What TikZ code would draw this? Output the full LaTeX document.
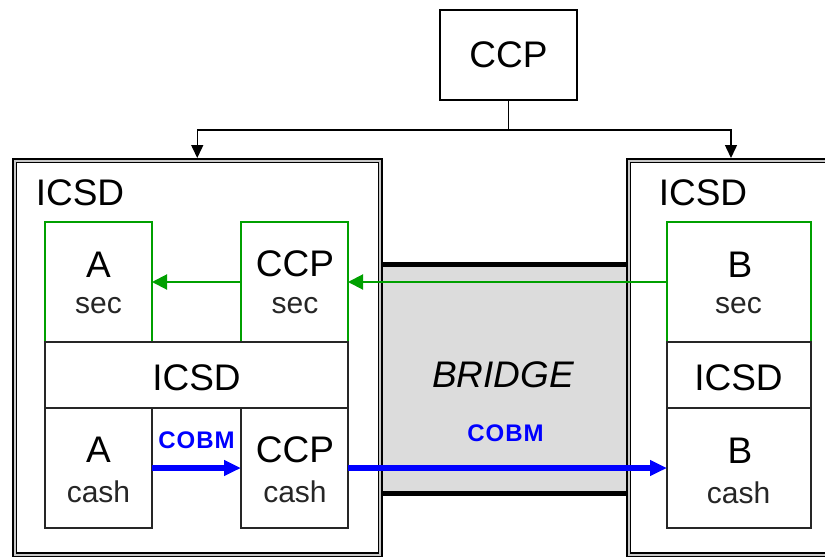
\documentclass[tikz,border=0pt]{standalone}
\usepackage{fontspec}
\setmainfont{Liberation Sans}
\newfontfamily\cobmfont[LetterSpace=4.0]{Liberation Sans}
\usetikzlibrary{arrows.meta}
\definecolor{secgreen}{RGB}{0,160,0}
\definecolor{cobmblue}{RGB}{0,0,255}
\definecolor{bridgegray}{RGB}{220,220,220}
\definecolor{framegray}{RGB}{200,200,200}

\begin{document}
\begin{tikzpicture}[x=1pt,y=-1pt,
  every node/.style={inner sep=0pt, outer sep=0pt},
  bigtext/.style={font=\fontsize{37}{37}\selectfont},
  smalltext/.style={font=\fontsize{30}{30}\selectfont, text=black!85},
  cobmtext/.style={font=\fontsize{24}{24}\cobmfont\bfseries, text=cobmblue},
  icsdframe/.style={draw=black, line width=1.5pt, double=framegray,
    double distance=2pt, minimum width=#1, minimum height=394pt},
  secbox/.style={draw=secgreen, line width=1.5pt, fill=white,
    minimum width=#1, minimum height=120pt},
  cashbox/.style={draw=black!85, line width=1.5pt, fill=white,
    minimum width=#1, minimum height=120pt},
  barbox/.style={draw=black!85, line width=1.5pt, fill=white,
    minimum width=#1, minimum height=66pt},
  treeline/.style={draw=black, line width=1.5pt},
  treearrow/.style={treeline, shorten >=2.5pt, -{Triangle[length=13pt,width=12pt]}},
  secarrow/.style={draw=secgreen, line width=2pt, -{Triangle[length=15pt,width=15pt]}},
  casharrow/.style={draw=cobmblue, line width=5.5pt, -{Triangle[length=17pt,width=15pt]}},
]
\useasboundingbox (0,0) rectangle (825,557);
\clip (0,0) rectangle (825,557);

% bridge between the two depositories
\node[fill=bridgegray, minimum width=246pt, minimum height=229pt] (bridge) at (504,378.5) {};
\draw[line width=5pt] (bridge.north west) -- (bridge.north east);
\draw[line width=5pt] (bridge.south west) -- (bridge.south east);
\node[font=\fontsize{37}{37}\selectfont\itshape] (bridgeT) at (503,375) {BRIDGE};
\node[cobmtext] (cobmB) at (505.5,433) {COBM};

% outer ICSD frames
\node[icsdframe=365.5pt] (frameL) at (197.25,357.5) {};
\node[icsdframe=205pt] (frameR) at (731,357.5) {};
\node[bigtext] (icsdL) at (80,193) {ICSD};
\node[bigtext] (icsdR) at (703,193) {ICSD};

% central counterparty and its links
\node[draw, line width=1.5pt, minimum width=137pt, minimum height=90pt, bigtext] (ccp) at (508.5,55) {CCP};
\draw[treeline] (ccp.south) -- ++(0,30) coordinate (split);
\draw[treearrow] (split) -| (frameL.north);
\draw[treearrow] (split) -| (frameR.north);

% securities accounts
\node[secbox=107pt] (asec) at (98.5,282) {};
\node[secbox=107pt] (csec) at (294.5,282) {};
\node[secbox=144pt] (bsec) at (739,282) {};

% ICSD bars
\node[barbox=303pt] (barL) at (196.5,375) {};
\node[barbox=144pt] (barR) at (739,375) {};
\node[bigtext] (barLT) at (196.5,377.5) {ICSD};
\node[bigtext] (barRT) at (738.5,377.5) {ICSD};

% cash accounts
\node[cashbox=107pt] (acash) at (98.5,468) {};
\node[cashbox=107pt] (ccash) at (294.5,468) {};
\node[cashbox=144pt] (bcash) at (739,468) {};

% account labels
\node[bigtext] (asecT) at (98.5,265) {A};
\node[smalltext] (asecS) at (98.5,306) {sec};
\node[bigtext] (csecT) at (295,264) {CCP};
\node[smalltext] (csecS) at (295,306) {sec};
\node[bigtext] (bsecT) at (740,265) {B};
\node[smalltext] (bsecS) at (738.5,306) {sec};
\node[bigtext] (acashT) at (98.5,450) {A};
\node[smalltext] (acashS) at (98.5,492) {cash};
\node[bigtext] (ccashT) at (295,450) {CCP};
\node[smalltext] (ccashS) at (295,492) {cash};
\node[bigtext] (bcashT) at (740,451) {B};
\node[smalltext] (bcashS) at (738.5,493) {cash};

% transfers
\draw[secarrow] (csec.west) -- (asec.east);
\draw[secarrow] (bsec.west) -- (csec.east);
\draw[casharrow] (acash.east) -- (ccash.west);
\draw[casharrow] (ccash.east) -- (bcash.west);
\node[cobmtext] (cobmA) at (196.5,440) {COBM};
\end{tikzpicture}
\end{document}
